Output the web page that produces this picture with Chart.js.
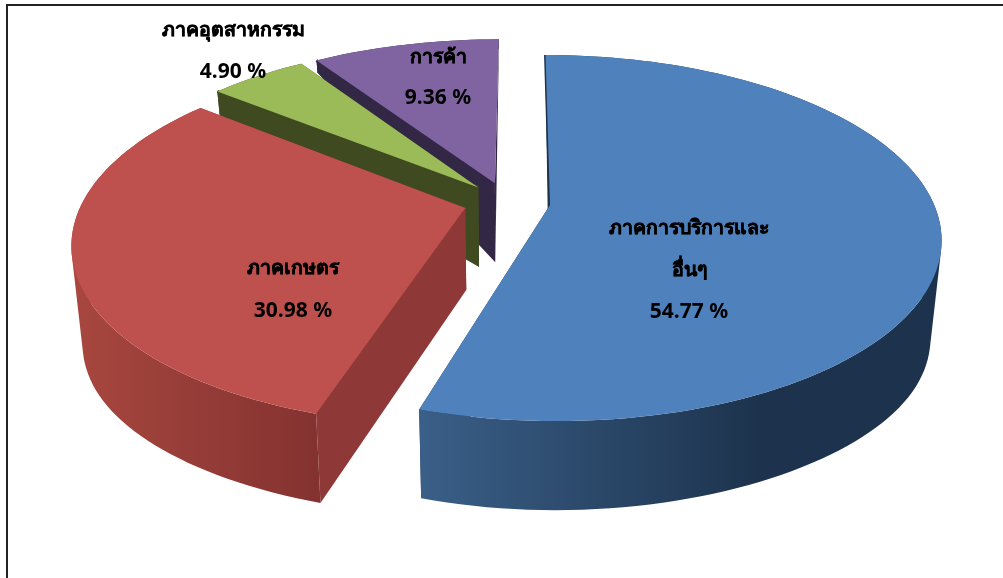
<!DOCTYPE html>
<html lang="th">
<head>
    <meta charset="UTF-8" />
    <title>3D Pie</title>
    <script src="https://cdn.jsdelivr.net/npm/chart.js"></script>
    <style>
        html, body { margin: 0; padding: 0; background: #fff; overflow: hidden; }
        #wrap { position: relative; width: 1003px; height: 578px; }
        #frame { position: absolute; left: 6px; top: 4px; width: 1100px; height: 600px; border: 2px solid #222; box-sizing: border-box; }
        canvas { position: absolute; left: 0; top: 0; }
    </style>
</head>
<body>
    <div id="wrap">
        <div id="frame"></div>
        <canvas id="pieChart" width="1003" height="578"></canvas>
    </div>

    <script>
        const categories = ['ภาคการบริการและ|อื่นๆ', 'ภาคเกษตร', 'ภาคอุตสาหกรรม', 'การค้า'];
        const shares = [54.77, 30.98, 4.90, 9.36];
        const topColors = ['#4F81BD', '#BE504D', '#9BBB59', '#8064A2'];
        const wallLeft = ['#3A5F88', '#A8473F', '#404A21', '#322845'];
        const wallRight = ['#1D334D', '#843230', '#404A21', '#322845'];
        const cutColors = ['#1D334D', '#8E3937', '#404A21', '#322845'];

        // centre of each label block, first line / line gap
        const labelPos = [[689, 228], [293, 268], [233, 30], [438, 57]];
        const labelGap = [42, 43, 42, 41];

        // perspective of the pie plane
        const view = { cx: 507, cy: 202, rx: 383, ry: 176, p: 0.18, skew: 2.5 };
        // wall height by plane depth v
        const depthStops = [[-1.2, 8], [-0.941, 12], [-0.709, 26], [-0.109, 79], [0.033, 82], [0.5, 86], [1, 89], [1.2, 90]];

        function wallDepth(v) {
            for (let i = 1; i < depthStops.length; i++) {
                if (v <= depthStops[i][0]) {
                    const a = depthStops[i - 1], b = depthStops[i];
                    return a[1] + (b[1] - a[1]) * (v - a[0]) / (b[0] - a[0]);
                }
            }
            return 90;
        }

        function topPoint(u, v) {
            const w = 1 - view.p * v;
            return [view.cx + (view.rx * u - view.skew * v) / w, view.cy + view.ry * v / w];
        }

        function basePoint(u, v) {
            const t = topPoint(u, v);
            const d = wallDepth(v);
            // base rim sags a bit more out at the sides
            const sag = 10 * u * u * u * u * d / 90;
            return [t[0] - 11 * u * d / 90, t[1] + d + sag];
        }

        function tracePath(ctx, pts) {
            ctx.beginPath();
            pts.forEach((pt, i) => i ? ctx.lineTo(pt[0], pt[1]) : ctx.moveTo(pt[0], pt[1]));
            ctx.closePath();
        }

        function drawSlice(ctx, arc, i) {
            const { startAngle, endAngle, outerRadius } = arc.getProps(['startAngle', 'endAngle', 'outerRadius'], true);
            const mid = (startAngle + endAngle) / 2;
            const off = arc.options.offset / outerRadius;
            const ou = off * Math.cos(mid), ov = off * Math.sin(mid);

            const rim = [];
            const steps = Math.ceil((endAngle - startAngle) / 0.03);
            for (let k = 0; k <= steps; k++) {
                const a = startAngle + (endAngle - startAngle) * k / steps;
                rim.push([ou + Math.cos(a), ov + Math.sin(a)]);
            }
            const first = rim[0], last = rim[rim.length - 1];

            // cut faces
            ctx.fillStyle = cutColors[i];
            [first, last].forEach(e => {
                tracePath(ctx, [topPoint(ou, ov), topPoint(e[0], e[1]), basePoint(e[0], e[1]), basePoint(ou, ov)]);
                ctx.fill();
            });

            // outer wall as one path of strips, all wound the same way
            const xs = rim.map(r => topPoint(r[0], r[1])[0]);
            const grad = ctx.createLinearGradient(Math.min(...xs), 0, Math.max(...xs), 0);
            grad.addColorStop(0, wallLeft[i]);
            grad.addColorStop(i === 0 ? 0.65 : 1, wallRight[i]);
            grad.addColorStop(1, wallRight[i]);
            ctx.fillStyle = grad;
            ctx.beginPath();
            for (let k = 0; k < rim.length - 1; k++) {
                const a = rim[k], b = rim[k + 1];
                const quad = [topPoint(a[0], a[1]), topPoint(b[0], b[1]), basePoint(b[0], b[1]), basePoint(a[0], a[1])];
                let area = 0;
                quad.forEach((pt, n) => {
                    const nx = quad[(n + 1) % 4];
                    area += pt[0] * nx[1] - nx[0] * pt[1];
                });
                if (area < 0) quad.reverse();
                quad.forEach((pt, n) => n ? ctx.lineTo(pt[0], pt[1]) : ctx.moveTo(pt[0], pt[1]));
                ctx.closePath();
            }
            ctx.fill();

            // thin dark lip along the start edge
            ctx.strokeStyle = cutColors[i];
            ctx.lineWidth = 3;
            const p0 = topPoint(ou, ov), p1 = topPoint(first[0], first[1]);
            ctx.beginPath();
            ctx.moveTo(p0[0], p0[1]);
            ctx.lineTo(p1[0], p1[1]);
            ctx.stroke();

            // top face
            ctx.fillStyle = arc.options.backgroundColor;
            tracePath(ctx, [topPoint(ou, ov)].concat(rim.map(r => topPoint(r[0], r[1]))));
            ctx.fill();
        }

        const pie3d = {
            id: 'pie3d',
            beforeDatasetDraw(chart, args) {
                const ctx = chart.ctx;
                const arcs = args.meta.data;
                ctx.save();
                // back slices first, the blue one last
                for (let i = arcs.length - 1; i >= 0; i--) {
                    drawSlice(ctx, arcs[i], i);
                }
                ctx.restore();
                return false;
            },
            afterDraw(chart) {
                const ctx = chart.ctx;
                ctx.save();
                ctx.fillStyle = '#000';
                ctx.strokeStyle = '#000';
                ctx.lineWidth = 0.5;
                ctx.textAlign = 'center';
                ctx.textBaseline = 'middle';
                chart.data.labels.forEach((label, i) => {
                    const names = label.split('|');
                    const lines = names.concat(shares[i].toFixed(2) + ' %');
                    lines.forEach((line, k) => {
                        const size = k < names.length ? 19.5 : 21;
                        ctx.font = `bold ${size}px 'Noto Sans', 'DejaVu Sans', sans-serif`;
                        const y = labelPos[i][1] + k * labelGap[i];
                        ctx.fillText(line, labelPos[i][0], y);
                        if (k < names.length) ctx.strokeText(line, labelPos[i][0], y);
                    });
                });
                ctx.restore();
            }
        };

        new Chart(document.getElementById('pieChart').getContext('2d'), {
            type: 'pie',
            data: {
                labels: categories,
                datasets: [{
                    data: shares,
                    backgroundColor: topColors,
                    borderWidth: 0,
                    offset: 31
                }]
            },
            options: {
                responsive: false,
                animation: false,
                plugins: {
                    legend: { display: false },
                    title: { display: false },
                    tooltip: { enabled: false }
                }
            },
            plugins: [pie3d]
        });
    </script>
</body>
</html>
